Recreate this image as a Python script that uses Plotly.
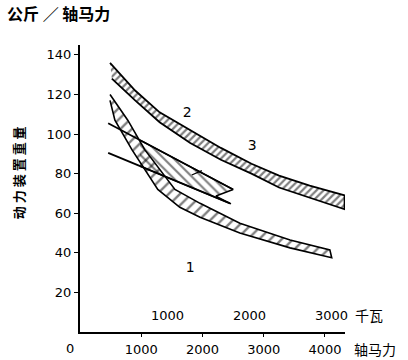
import plotly.graph_objects as go

# ---- data ----
# upper hatched band (curves 2 / 3)
up_hp_top = [490, 690, 900, 1300, 1800, 2300, 2800, 3250, 3750, 4320]
up_top = [136, 129, 122, 111, 102, 93, 85, 79, 74, 69]
up_hp_bot = [520, 900, 1300, 1800, 2300, 2800, 3250, 3750, 4320]
up_bot = [128, 117, 106, 95.5, 87, 80, 73, 68, 62]

# lower hatched band (curve 1)
b1_hp_top = [490, 780, 1060, 1550, 1960, 2610, 3430, 4080]
b1_top = [120, 107, 92, 72, 65, 55, 46.5, 41.5]
b1_hp_bot = [490, 570, 850, 1270, 1630, 1960, 2610, 3430, 4110]
b1_bot = [117, 107, 92, 72, 63, 58, 50, 42.5, 37.5]

# two straight lines
lineA_hp = [460, 2500]
lineA = [105.5, 72]
lineB_hp = [460, 2450]
lineB = [90.5, 65]

# middle hatched wedge between the lines
wedge_hp_top = [980, 2500]
wedge_top = [97, 72]
wedge_hp_bot = [2220, 2465, 980]
wedge_bot = [68.7, 64.7, 83.8]

# labels
curve_labels = ["1", "2", "3"]
curve_label_hp = [1800, 1750, 2810]
curve_label_val = [32, 110.5, 93.5]

x_ticks = [1000, 2000, 3000, 4000]
y_ticks = [20, 40, 60, 80, 100, 120, 140]
kw_ticks = [1000, 2000, 3000]
HP_PER_KW = 1.341

fig = go.Figure()

def band(xt, yt, xb, yb, shape, size, sol, lw=1.6):
    fig.add_trace(go.Scatter(
        x=list(xt) + list(xb)[::-1], y=list(yt) + list(yb)[::-1],
        mode="lines", fill="toself", fillcolor="rgba(0,0,0,0)",
        fillpattern=dict(shape=shape, size=size, solidity=sol,
                         fgcolor="black", bgcolor="rgba(0,0,0,0)"),
        line=dict(color="black", width=lw), hoverinfo="skip", showlegend=False))

band(up_hp_top, up_top, up_hp_bot, up_bot, "/", 5, 0.45, 1.8)
band(b1_hp_top, b1_top, b1_hp_bot, b1_bot, "/", 8, 0.3, 1.6)
fig.add_trace(go.Scatter(
    x=wedge_hp_top + wedge_hp_bot, y=wedge_top + wedge_bot,
    mode="lines", fill="toself", fillcolor="rgba(0,0,0,0)",
    fillpattern=dict(shape="\\", size=7, solidity=0.3,
                     fgcolor="black", bgcolor="rgba(0,0,0,0)"),
    line=dict(color="black", width=1.4), hoverinfo="skip", showlegend=False))

for xs, ys in [(lineA_hp, lineA), (lineB_hp, lineB)]:
    fig.add_trace(go.Scatter(x=xs, y=ys, mode="lines",
                             line=dict(color="black", width=1.8),
                             hoverinfo="skip", showlegend=False))

fig.add_trace(go.Scatter(x=curve_label_hp, y=curve_label_val, mode="text",
                         text=curve_labels,
                         textfont=dict(family="DejaVu Sans", size=14, color="black"),
                         hoverinfo="skip", showlegend=False))

ann = []
# leader line
ann.append(dict(x=1990, y=81.5, ax=1800, ay=79, xref="x", yref="y",
                axref="x", ayref="y", text="", showarrow=True,
                arrowhead=0, arrowwidth=1.3, arrowcolor="black"))
for k in kw_ticks:
    ann.append(dict(x=k * HP_PER_KW, y=8.5, xref="x", yref="y", text=str(k),
                    showarrow=False, xshift=5, yanchor="middle",
                    font=dict(family="DejaVu Sans", size=13, color="black")))
ann.append(dict(x=1.03, y=0.059, xref="paper", yref="paper", text="千瓦",
                showarrow=False, xanchor="left", yanchor="middle",
                font=dict(family="Noto Sans CJK SC", size=14, color="black")))
ann.append(dict(x=1.025, y=-0.06, xref="paper", yref="paper", text="轴马力",
                showarrow=False, xanchor="left", yanchor="middle",
                font=dict(family="Noto Sans CJK SC", size=14, color="black")))
ann.append(dict(x=-0.038, y=-0.058, xref="paper", yref="paper", text="0",
                showarrow=False, xanchor="center", yanchor="middle",
                font=dict(family="DejaVu Sans", size=13, color="black")))
ann.append(dict(x=-0.283, y=1.111, xref="paper", yref="paper", text="<b>公斤 ／ 轴马力</b>",
                showarrow=False, xanchor="left", yanchor="middle",
                font=dict(family="Noto Sans CJK SC", size=16, color="black")))
ann.append(dict(x=-0.234, y=0.557, xref="paper", yref="paper",
                text="<b>动 力 装 置 重 量</b>",
                showarrow=False, textangle=-90, xanchor="center", yanchor="middle",
                font=dict(family="Noto Sans CJK SC", size=13, color="black")))

fig.update_layout(
    width=408, height=360,
    margin=dict(l=80, r=63, t=45, b=28, autoexpand=False),
    paper_bgcolor="white", plot_bgcolor="white",
    annotations=ann,
    xaxis=dict(range=[0, 4327], tickvals=x_ticks, showgrid=False, zeroline=False,
               showline=True, linecolor="black", linewidth=2, automargin=False,
               ticks="outside", ticklen=3, tickcolor="black",
               ticklabelstandoff=1,
               tickfont=dict(family="DejaVu Sans", size=13, color="black")),
    yaxis=dict(range=[0, 145], tickvals=y_ticks, showgrid=False, zeroline=False,
               showline=True, linecolor="black", linewidth=2, automargin=False,
               ticks="outside", ticklen=4, tickcolor="black",
               tickfont=dict(family="DejaVu Sans", size=13, color="black")),
)

# remove the default page margin so the figure sits at the window's corner
fig.write_html("out.html", config={"displayModeBar": False},
               post_script="document.body.style.margin='0';document.body.style.overflow='hidden';")
